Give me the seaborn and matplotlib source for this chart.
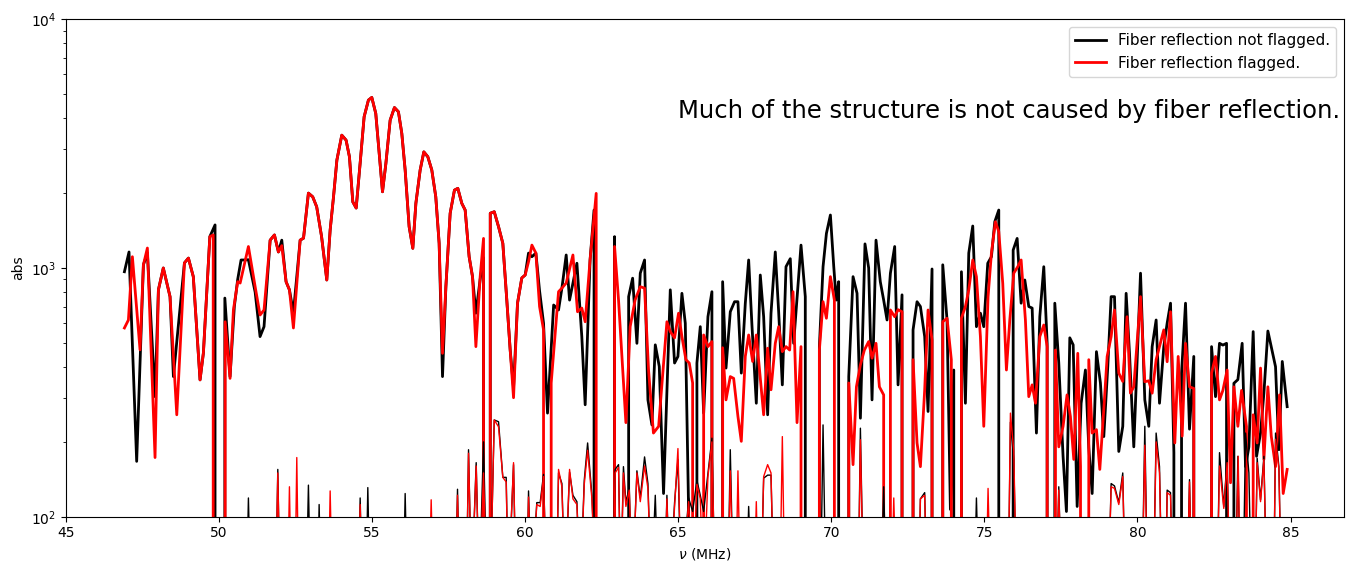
import matplotlib
matplotlib.use("Agg")
import matplotlib.pyplot as plt
import seaborn as sns
import pandas as pd

# ---- thick line: fiber reflection NOT flagged (black) ----
freq_black = [46.91, 47.06, 47.31, 47.53, 47.66, 47.91, 48.02, 48.18, 48.40, 48.51, 48.87, 49.00, 49.16, 49.38, 49.49,
              49.70, 49.87, 49.95, 50.12, 50.19, 50.36, 50.50, 50.61, 50.72, 50.85, 50.96, 51.18, 51.34, 51.47, 51.67,
              51.81, 51.94, 52.05, 52.19, 52.30, 52.43, 52.65, 52.76, 52.92, 53.06, 53.19, 53.35, 53.52, 53.63, 53.74,
              53.85, 54.01, 54.15, 54.26, 54.37, 54.48, 54.61, 54.74, 54.88, 54.99, 55.12, 55.23, 55.34, 55.45, 55.59,
              55.73, 55.86, 55.97, 56.08, 56.21, 56.33, 56.43, 56.57, 56.69, 56.82, 56.95, 57.08, 57.19, 57.30, 57.41,
              57.55, 57.69, 57.80, 57.93, 58.04, 58.17, 58.28, 58.39, 58.53, 58.64, 58.72, 58.80, 58.86, 58.99, 59.13,
              59.27, 59.40, 59.51, 59.62, 59.75, 59.89, 60.00, 60.11, 60.22, 60.35, 60.47, 60.60, 60.73, 60.93, 61.09,
              61.20, 61.34, 61.45, 61.69, 61.85, 61.96, 62.12, 62.25, 62.30, 62.85, 62.92, 63.08, 63.24, 63.38, 63.51,
              63.65, 63.76, 63.90, 64.01, 64.14, 64.25, 64.38, 64.52, 64.74, 64.88, 64.99, 65.12, 65.23, 65.34, 65.42,
              65.61, 65.72, 65.83, 65.97, 66.10, 66.20, 66.38, 66.45, 66.56, 66.70, 66.84, 66.95, 67.06, 67.19, 67.30,
              67.41, 67.55, 67.68, 67.79, 67.92, 68.03, 68.17, 68.28, 68.40, 68.52, 68.66, 68.77, 69.01, 69.15, 69.25,
              69.55, 69.61, 69.73, 69.84, 69.97, 70.08, 70.16, 70.24, 70.32, 70.50, 70.57, 70.71, 70.84, 70.95, 71.10,
              71.22, 71.33, 71.46, 71.60, 71.71, 71.82, 71.93, 72.07, 72.18, 72.31, 72.40, 72.60, 72.67, 72.80, 72.91,
              73.05, 73.16, 73.29, 73.38, 73.56, 73.64, 73.78, 73.89, 74.00, 74.08, 74.18, 74.25, 74.38, 74.49, 74.62,
              74.74, 74.87, 74.98, 75.11, 75.23, 75.34, 75.47, 75.64, 75.82, 75.94, 76.07, 76.20, 76.32, 76.45, 76.56,
              76.70, 76.81, 76.94, 77.05, 77.15, 77.22, 77.30, 77.43, 77.57, 77.68, 77.79, 77.90, 78.03, 78.16, 78.30,
              78.41, 78.52, 78.66, 78.79, 78.90, 79.03, 79.14, 79.25, 79.39, 79.52, 79.63, 79.74, 79.88, 80.10, 80.24,
              80.37, 80.48, 80.61, 80.72, 80.86, 80.97, 81.08, 81.19, 81.30, 81.44, 81.57, 81.70, 81.84, 81.92, 82.35,
              82.42, 82.55, 82.68, 82.79, 82.91, 83.04, 83.15, 83.28, 83.42, 83.53, 83.64, 83.78, 83.89, 84.02, 84.13,
              84.26, 84.37, 84.51, 84.62, 84.73, 84.89]
abs_black = [966, 1160, 167, 1030, 1150, 304, 817, 1000, 767, 366, 1048, 1096, 923, 355, 456,
             1337, 1490, 0, 0, 757, 366, 700, 900, 1077, 1077, 1080, 800, 530, 581, 1294,
             1358, 1160, 1294, 881, 817, 661, 1294, 1318, 2000, 1933, 1762, 1337, 895, 1422, 1933,
             2717, 3420, 3266, 2800, 1844, 1742, 2642, 4055, 4730, 4850, 4180, 2900, 2025, 2630, 3930,
             4416, 4245, 3477, 2477, 1466, 1200, 1820, 2477, 2930, 2800, 2477, 1933, 1257, 366, 841,
             1660, 2056, 2090, 1820, 1710, 1110, 923, 658, 900, 1100, 0, 0, 1660, 1683, 1466,
             1257, 743, 469, 330, 722, 912, 937, 1148, 1110, 1148, 810, 600, 261, 710, 678,
             830, 1128, 743, 1045, 530, 282, 1077, 1710, 0, 0, 1337, 0, 0, 767, 910,
             498, 953, 1077, 295, 234, 491, 402, 124, 817, 415, 441, 791, 600, 104, 0,
             415, 581, 261, 637, 803, 0, 0, 881, 396, 667, 732, 732, 378, 720, 1077,
             581, 286, 937, 637, 257, 658, 1160, 667, 339, 1012, 1090, 498, 1236, 767, 0,
             0, 483, 1012, 1377, 1633, 1012, 743, 881, 0, 0, 366, 923, 791, 249, 1250,
             1000, 295, 1294, 881, 743, 618, 953, 1220, 339, 780, 0, 0, 564, 732, 700,
             530, 265, 991, 0, 0, 1030, 618, 107, 389, 0, 0, 966, 286, 1148, 1475,
             581, 658, 581, 1045, 1110, 1535, 1710, 0, 0, 1180, 1315, 722, 895, 700, 690,
             217, 637, 1012, 498, 0, 0, 722, 415, 175, 105, 524, 491, 110, 286, 389,
             190, 124, 461, 345, 210, 401, 767, 767, 183, 231, 791, 454, 191, 953, 295,
             231, 483, 618, 286, 483, 600, 722, 181, 0, 378, 722, 225, 441, 0, 0,
             483, 304, 498, 490, 498, 0, 344, 356, 498, 159, 191, 555, 175, 217, 314,
             558, 483, 401, 186, 421, 277]

# ---- thick line: fiber reflection flagged (red) ----
freq_red = [46.91, 47.04, 47.17, 47.42, 47.53, 47.66, 47.91, 48.02, 48.18, 48.40, 48.62, 48.87, 49.00, 49.16, 49.38,
            49.49, 49.70, 49.81, 49.90, 50.12, 50.20, 50.36, 50.47, 50.61, 50.69, 50.96, 51.18, 51.34, 51.47, 51.67,
            51.81, 51.94, 52.05, 52.19, 52.30, 52.43, 52.65, 52.76, 52.92, 53.06, 53.19, 53.35, 53.52, 53.63, 53.74,
            53.85, 54.01, 54.15, 54.26, 54.37, 54.48, 54.61, 54.74, 54.88, 54.99, 55.12, 55.23, 55.34, 55.45, 55.59,
            55.73, 55.86, 55.97, 56.08, 56.21, 56.33, 56.43, 56.57, 56.69, 56.82, 56.95, 57.08, 57.19, 57.30, 57.41,
            57.55, 57.69, 57.80, 57.93, 58.04, 58.17, 58.28, 58.39, 58.53, 58.64, 58.72, 58.80, 58.86, 58.99, 59.13,
            59.27, 59.40, 59.51, 59.62, 59.75, 59.89, 60.00, 60.11, 60.22, 60.35, 60.47, 60.60, 60.66, 60.80, 60.85,
            61.09, 61.20, 61.34, 61.56, 61.71, 61.85, 61.96, 62.12, 62.32, 62.36, 62.85, 62.92, 63.05, 63.29, 63.43,
            63.59, 63.76, 63.90, 64.03, 64.19, 64.36, 64.47, 64.63, 64.74, 64.88, 65.01, 65.12, 65.25, 65.36, 65.47,
            65.55, 65.70, 65.83, 65.97, 66.10, 66.18, 66.38, 66.45, 66.56, 66.70, 66.81, 66.95, 67.06, 67.19, 67.30,
            67.43, 67.55, 67.79, 67.92, 68.03, 68.17, 68.28, 68.40, 68.52, 68.64, 68.75, 68.88, 69.01, 69.08, 69.55,
            69.61, 69.73, 69.84, 69.97, 70.10, 70.16, 70.50, 70.57, 70.71, 70.82, 70.95, 71.08, 71.22, 71.33, 71.46,
            71.57, 71.71, 71.82, 71.93, 72.07, 72.18, 72.31, 72.40, 72.60, 72.67, 72.80, 72.91, 73.05, 73.16, 73.29,
            73.38, 73.56, 73.64, 73.78, 73.92, 74.02, 74.18, 74.25, 74.38, 74.49, 74.62, 74.74, 74.87, 74.98, 75.12,
            75.23, 75.36, 75.47, 75.60, 75.72, 75.83, 75.96, 76.09, 76.20, 76.34, 76.45, 76.56, 76.67, 76.81, 76.94,
            77.05, 77.15, 77.22, 77.32, 77.43, 77.57, 77.70, 77.81, 77.92, 78.05, 78.14, 78.26, 78.41, 78.52, 78.66,
            78.77, 78.90, 79.01, 79.14, 79.25, 79.39, 79.52, 79.66, 79.77, 79.88, 80.10, 80.24, 80.37, 80.48, 80.61,
            80.86, 80.97, 81.08, 81.22, 81.33, 81.46, 81.57, 81.70, 81.84, 81.92, 82.35, 82.42, 82.55, 82.68, 82.79,
            82.93, 83.04, 83.15, 83.28, 83.40, 83.56, 83.66, 83.78, 83.91, 84.02, 84.13, 84.26, 84.37, 84.51, 84.64,
            84.76, 84.89]
abs_red = [574, 618, 1110, 469, 1030, 1203, 173, 817, 1000, 767, 257, 1048, 1096, 923, 355,
           456, 1337, 1358, 0, 0, 608, 360, 678, 881, 870, 1220, 841, 647, 678, 1294,
           1358, 1160, 1230, 881, 817, 574, 1294, 1318, 2000, 1933, 1762, 1337, 895, 1422, 1933,
           2717, 3420, 3266, 2800, 1844, 1742, 2642, 4055, 4730, 4850, 4180, 2900, 2025, 2630, 3930,
           4416, 4245, 3477, 2477, 1466, 1200, 1820, 2477, 2930, 2800, 2477, 1933, 1257, 454, 841,
           1660, 2056, 2090, 1820, 1710, 1110, 923, 483, 923, 1315, 0, 0, 1660, 1683, 1466,
           1257, 743, 469, 301, 722, 912, 937, 1060, 1236, 1148, 700, 564, 0, 0, 345,
           803, 830, 870, 1128, 667, 690, 608, 1077, 1995, 0, 0, 1220, 743, 239, 581,
           743, 841, 830, 389, 217, 231, 345, 608, 555, 524, 658, 530, 428, 415, 345,
           0, 0, 538, 483, 506, 0, 0, 478, 295, 366, 360, 253, 201, 441, 538,
           421, 538, 257, 476, 324, 498, 581, 461, 483, 468, 803, 239, 483, 0, 0,
           468, 732, 628, 923, 743, 0, 0, 345, 162, 333, 408, 468, 506, 434, 498,
           333, 309, 0, 678, 637, 680, 667, 0, 0, 428, 198, 159, 324, 678, 514,
           0, 0, 608, 628, 428, 0, 0, 628, 700, 817, 1077, 923, 530, 231, 767,
           1148, 1535, 1400, 867, 389, 618, 953, 1012, 1077, 618, 304, 339, 286, 530, 590,
           483, 0, 0, 468, 191, 231, 309, 253, 170, 454, 159, 0, 428, 217, 224,
           155, 270, 441, 530, 678, 378, 350, 637, 314, 333, 767, 349, 352, 314, 428,
           564, 420, 667, 198, 441, 211, 498, 333, 328, 0, 0, 378, 441, 295, 322,
           389, 137, 333, 231, 322, 231, 0, 257, 198, 396, 170, 333, 211, 159, 309,
           124, 155]

# ---- thin lines (low-level component) ----
freq_thin_black = [46.90, 50.90, 50.96, 51.03, 51.85, 51.92, 51.99, 52.85, 52.92, 52.99, 53.22, 53.27, 53.33, 54.55,
                   54.61, 54.68, 54.80, 54.86, 54.93, 56.02, 56.08, 56.15, 57.72, 57.79, 57.86, 58.08, 58.15, 58.25,
                   58.40, 58.50, 58.64, 58.75, 58.86, 58.99, 59.13, 59.27, 59.38, 59.45, 59.62, 59.70, 60.05, 60.11,
                   60.20, 60.38, 60.49, 60.60, 60.70, 61.02, 61.09, 61.20, 61.30, 61.45, 61.56, 61.69, 61.80, 61.93,
                   62.04, 62.18, 62.30, 62.85, 62.94, 63.05, 63.12, 63.21, 63.29, 63.40, 63.50, 63.65, 63.76, 63.90,
                   64.01, 64.12, 64.25, 64.35, 64.55, 64.63, 64.72, 64.88, 64.99, 65.10, 65.34, 65.47, 65.61, 65.72,
                   65.83, 65.97, 66.10, 66.20, 66.62, 66.70, 66.80, 67.22, 67.30, 67.40, 67.70, 67.79, 67.92, 68.03,
                   68.12, 69.65, 69.73, 69.82, 70.88, 70.95, 71.05, 71.62, 71.71, 71.80, 72.85, 72.91, 73.05, 73.12,
                   74.67, 74.74, 74.82, 75.78, 75.85, 75.96, 76.05, 77.35, 77.43, 77.52, 79.05, 79.14, 79.25, 79.39,
                   79.52, 79.60, 80.15, 80.24, 80.33, 80.52, 80.61, 80.72, 80.80, 80.92, 80.97, 81.08, 81.15, 81.62,
                   81.70, 81.78, 82.60, 82.68, 82.82, 82.93, 83.02, 83.20, 83.28, 83.36, 83.45, 83.53, 83.64, 83.72,
                   83.84, 83.91, 84.02, 84.13, 84.22, 84.45, 84.51, 84.62, 84.70, 84.89]
abs_thin_black = [50, 50, 119, 50, 50, 155, 50, 50, 134, 50, 50, 112, 50, 50,
                  119, 50, 50, 131, 50, 50, 124, 50, 50, 129, 50, 50, 186, 50,
                  165, 50, 200, 50, 50, 245, 241, 144, 144, 50, 162, 50, 50, 127,
                  50, 114, 114, 148, 50, 50, 150, 136, 50, 151, 122, 115, 50, 140,
                  198, 122, 50, 50, 155, 162, 50, 159, 114, 131, 50, 153, 119, 174,
                  136, 50, 122, 50, 50, 122, 50, 114, 170, 50, 119, 105, 140, 122,
                  105, 150, 207, 50, 50, 186, 50, 50, 110, 50, 50, 143, 147, 147,
                  50, 50, 234, 50, 50, 227, 50, 50, 132, 50, 50, 118, 125, 50,
                  50, 119, 50, 50, 240, 170, 50, 50, 132, 50, 50, 136, 133, 114,
                  150, 50, 50, 231, 50, 50, 217, 159, 50, 50, 128, 125, 50, 50,
                  141, 50, 50, 181, 110, 170, 50, 50, 175, 50, 50, 217, 150, 50,
                  50, 172, 117, 175, 50, 50, 217, 159, 50, 50]
freq_thin_red = [46.90, 51.85, 51.92, 51.99, 52.24, 52.30, 52.36, 52.48, 52.54, 52.60, 53.57, 53.63, 53.70, 54.55,
                 54.61, 54.68, 56.86, 56.93, 57.00, 57.72, 57.79, 57.86, 58.08, 58.15, 58.25, 58.40, 58.50, 58.64,
                 58.75, 58.86, 58.99, 59.13, 59.27, 59.38, 59.45, 59.62, 59.70, 60.05, 60.11, 60.20, 60.38, 60.49,
                 60.60, 60.70, 61.02, 61.09, 61.20, 61.30, 61.45, 61.56, 61.69, 61.80, 61.93, 62.04, 62.18, 62.30,
                 62.85, 62.94, 63.05, 63.12, 63.21, 63.29, 63.40, 63.50, 63.65, 63.76, 63.90, 64.01, 64.12, 64.55,
                 64.63, 64.72, 64.88, 64.99, 65.10, 65.34, 65.47, 65.61, 65.72, 65.83, 65.97, 66.10, 66.20, 66.62,
                 66.70, 66.80, 66.88, 66.95, 67.03, 67.48, 67.55, 67.62, 67.70, 67.79, 67.92, 68.03, 68.12, 68.32,
                 68.40, 68.48, 70.88, 70.95, 71.05, 71.97, 72.04, 72.12, 72.85, 72.91, 73.05, 73.12, 75.05, 75.12,
                 75.20, 75.78, 75.85, 75.96, 76.05, 77.35, 77.43, 77.52, 79.05, 79.14, 79.25, 79.39, 79.52, 79.60,
                 80.15, 80.24, 80.33, 80.52, 80.61, 80.72, 80.80, 80.92, 80.97, 81.08, 81.15, 81.62, 81.70, 81.78,
                 82.60, 82.68, 82.82, 82.93, 83.02, 83.20, 83.29, 83.36, 83.84, 83.91, 84.02, 84.13, 84.22, 84.45,
                 84.51, 84.62, 84.70, 84.89]
abs_thin_red = [50, 50, 150, 50, 50, 132, 50, 50, 173, 50, 50, 127, 50, 50,
                112, 50, 50, 117, 50, 50, 122, 50, 50, 180, 50, 160, 50, 150,
                50, 50, 245, 230, 144, 138, 50, 165, 50, 50, 120, 50, 112, 110,
                145, 50, 50, 155, 132, 50, 155, 118, 112, 50, 135, 185, 118, 50,
                50, 150, 158, 50, 150, 110, 128, 50, 150, 115, 160, 130, 50, 50,
                118, 50, 110, 188, 50, 115, 50, 135, 118, 50, 145, 200, 50, 50,
                153, 50, 50, 153, 50, 50, 115, 50, 50, 145, 162, 150, 50, 50,
                210, 50, 50, 204, 50, 50, 119, 50, 50, 118, 122, 50, 50, 130,
                50, 50, 261, 184, 50, 50, 128, 50, 50, 132, 130, 112, 145, 50,
                50, 194, 50, 50, 200, 150, 50, 50, 125, 122, 50, 50, 138, 50,
                50, 160, 108, 165, 50, 50, 175, 50, 50, 165, 115, 170, 50, 50,
                205, 155, 50, 50]

legend_labels = ["Fiber reflection not flagged.", "Fiber reflection flagged."]
annotation = "Much of the structure is not caused by fiber reflection."

fig, ax = plt.subplots(figsize=(13.57, 5.66), dpi=100)
fig.subplots_adjust(left=0.0486, right=0.9905, top=0.966, bottom=0.087)

df_b = pd.DataFrame({"f": freq_black, "a": abs_black})
df_r = pd.DataFrame({"f": freq_red, "a": abs_red})
df_tb = pd.DataFrame({"f": freq_thin_black, "a": abs_thin_black})
df_tr = pd.DataFrame({"f": freq_thin_red, "a": abs_thin_red})

sns.lineplot(data=df_b, x="f", y="a", ax=ax, color="black", lw=2, sort=False, estimator=None,
             label=legend_labels[0])
sns.lineplot(data=df_r, x="f", y="a", ax=ax, color="red", lw=2, sort=False, estimator=None,
             label=legend_labels[1])
sns.lineplot(data=df_tb, x="f", y="a", ax=ax, color="black", lw=1, sort=False, estimator=None)
sns.lineplot(data=df_tr, x="f", y="a", ax=ax, color="red", lw=1, sort=False, estimator=None)

ax.set_yscale("log")
ax.set_ylim(1e2, 1e4)
ax.set_xlim(45, 86.75)
ax.set_xlabel(r"$\nu$ (MHz)")
ax.set_ylabel("abs")
ax.text(65, 4000, annotation, fontsize=17.5)
ax.legend(loc="upper right", fontsize=11)

fig.savefig("out.png", dpi=100)
